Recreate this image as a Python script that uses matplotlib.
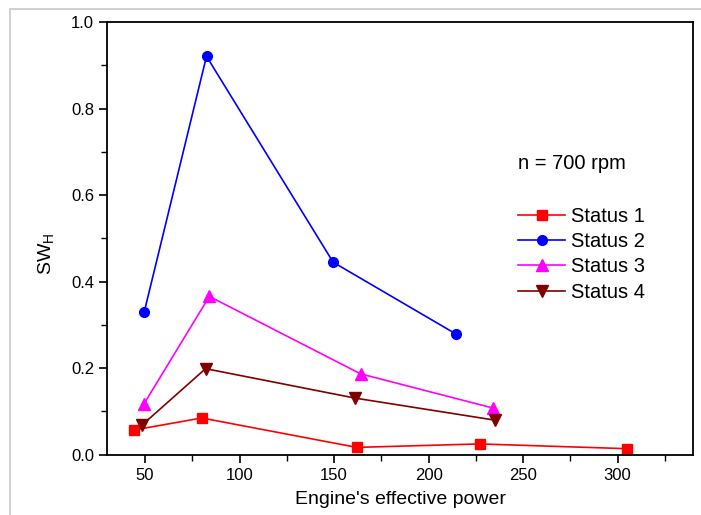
import matplotlib
matplotlib.use("Agg")
import matplotlib.pyplot as plt
from matplotlib.ticker import MultipleLocator, FormatStrFormatter
from matplotlib.patches import Rectangle

plt.rcParams["font.family"] = ["Liberation Sans", "DejaVu Sans"]

# power values / SW_H
s1_x = [44, 80, 162, 227, 305]
s1_y = [0.057, 0.085, 0.017, 0.025, 0.014]
s2_x = [49.5, 82.5, 149.5, 214.5]
s2_y = [0.329, 0.921, 0.445, 0.279]
s3_x = [49.5, 84, 164, 234]
s3_y = [0.118, 0.366, 0.187, 0.108]
s4_x = [48.5, 82, 161, 235]
s4_y = [0.069, 0.199, 0.131, 0.080]

labels = ["Status 1", "Status 2", "Status 3", "Status 4"]

fig = plt.figure(figsize=(7.01, 5.15), dpi=100)
ax = fig.add_axes([0.153, 0.117, 0.836, 0.84])

# faint frame around the figure, as in the scanned original
fig.patches.append(Rectangle((0.0143, -0.02), 1.2, 1.0025, transform=fig.transFigure,
                             fill=False, edgecolor="#c8c8c8", linewidth=1.2))

ax.plot(s1_x, s1_y, color="#ff0000", marker="s", markersize=6.5, lw=1.2, label=labels[0])
ax.plot(s2_x, s2_y, color="#0000ff", marker="o", markersize=7, lw=1.2, label=labels[1])
ax.plot(s3_x, s3_y, color="#ff00ff", marker="^", markersize=8, lw=1.2, label=labels[2])
ax.plot(s4_x, s4_y, color="#800000", marker="v", markersize=8, lw=1.2, label=labels[3])

ax.set_xlim(30, 340)
ax.set_ylim(0, 1.0)
ax.set_xticks([50, 100, 150, 200, 250, 300])
ax.xaxis.set_minor_locator(MultipleLocator(25))
ax.yaxis.set_major_locator(MultipleLocator(0.2))
ax.yaxis.set_minor_locator(MultipleLocator(0.1))
ax.yaxis.set_major_formatter(FormatStrFormatter("%.1f"))
ax.tick_params(which="major", direction="out", length=6, width=1.2, labelsize=12)
ax.tick_params(which="minor", direction="out", length=4, width=1.0)
for s in ax.spines.values():
    s.set_linewidth(1.3)

ax.set_xlabel("Engine's effective power", fontsize=14, labelpad=6)
ax.set_ylabel(r"SW$_\mathregular{H}$", fontsize=14)
ax.yaxis.set_label_coords(-0.085, 0.465)

ax.text(0.701, 0.674, "n = 700 rpm", transform=ax.transAxes, fontsize=14.5, va="center")
ax.legend(loc="upper left", bbox_to_anchor=(0.684, 0.597), frameon=False, fontsize=14.5,
          handlelength=2.34, handletextpad=0.3, labelspacing=0.32, borderpad=0)

fig.savefig("out.png", dpi=100)
